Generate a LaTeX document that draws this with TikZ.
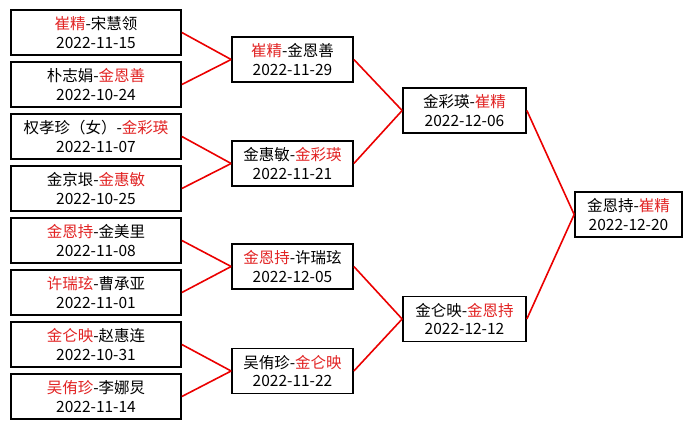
\documentclass[tikz,border=0pt]{standalone}
\usepackage{fontspec}
\setmainfont{Noto Sans CJK SC}
\usepackage{tikz}
\usetikzlibrary{positioning}
\usepackage{xcolor}
\definecolor{winred}{RGB}{226, 36, 36}
\definecolor{linkred}{RGB}{235, 0, 0}
\newcommand{\win}[1]{\textcolor{winred}{#1}}

\begin{document}
\begin{tikzpicture}[x=1pt, y=-1pt, font=\fontsize{15.5}{18.5}\selectfont,
    game/.style={draw=black, line width=1.7pt, fill=white, align=center,
                 minimum height=45pt, inner sep=0pt},
    link/.style={draw=linkred, line width=1.6pt}]
  \useasboundingbox[fill=white] (0, 0) rectangle (692, 429);

  % first round
  \node[game, minimum width=170pt] (r1a) at (96, 32.5)  {\win{崔精}-宋慧领\\2022-11-15};
  \node[game, minimum width=170pt] (r1b) at (96, 84.5)  {朴志娟-\win{金恩善}\\2022-10-24};
  \node[game, minimum width=170pt] (r1c) at (96, 136.5) {权孝珍（女）-\win{金彩瑛}\\2022-11-07};
  \node[game, minimum width=170pt] (r1d) at (96, 188.5) {金京垠-\win{金惠敏}\\2022-10-25};
  \node[game, minimum width=170pt] (r1e) at (96, 240.5) {\win{金恩持}-金美里\\2022-11-08};
  \node[game, minimum width=170pt] (r1f) at (96, 292.5) {\win{许瑞玹}-曹承亚\\2022-11-01};
  \node[game, minimum width=170pt] (r1g) at (96, 344.5) {\win{金仑映}-赵惠连\\2022-10-31};
  \node[game, minimum width=170pt] (r1h) at (96, 396.5) {\win{吴侑珍}-李娜炅\\2022-11-14};

  % second round
  \node[game, minimum width=121pt] (r2a) at (292.5, 59.5)  {\win{崔精}-金恩善\\2022-11-29};
  \node[game, minimum width=121pt] (r2b) at (292.5, 163.5) {金惠敏-\win{金彩瑛}\\2022-11-21};
  \node[game, minimum width=121pt] (r2c) at (292.5, 266.5) {\win{金恩持}-许瑞玹\\2022-12-05};
  \node[game, minimum width=121pt] (r2d) at (292.5, 371)   {吴侑珍-\win{金仑映}\\2022-11-22};

  % semi-finals
  \node[game, minimum width=123pt] (r3a) at (464.5, 110.5) {金彩瑛-\win{崔精}\\2022-12-06};
  \node[game, minimum width=123pt] (r3b) at (464.5, 319)   {金仑映-\win{金恩持}\\2022-12-12};

  % final
  \node[game, minimum width=107pt] (fin) at (628.5, 214.5) {金恩持-\win{崔精}\\2022-12-20};

  % links
  \foreach \a/\b in {r1a/r2a, r1b/r2a, r1c/r2b, r1d/r2b, r1e/r2c, r1f/r2c, r1g/r2d, r1h/r2d,
                     r2a/r3a, r2b/r3a, r2c/r3b, r2d/r3b, r3a/fin, r3b/fin}
    \draw[link] (\a.east) -- (\b.west);
\end{tikzpicture}
\end{document}
